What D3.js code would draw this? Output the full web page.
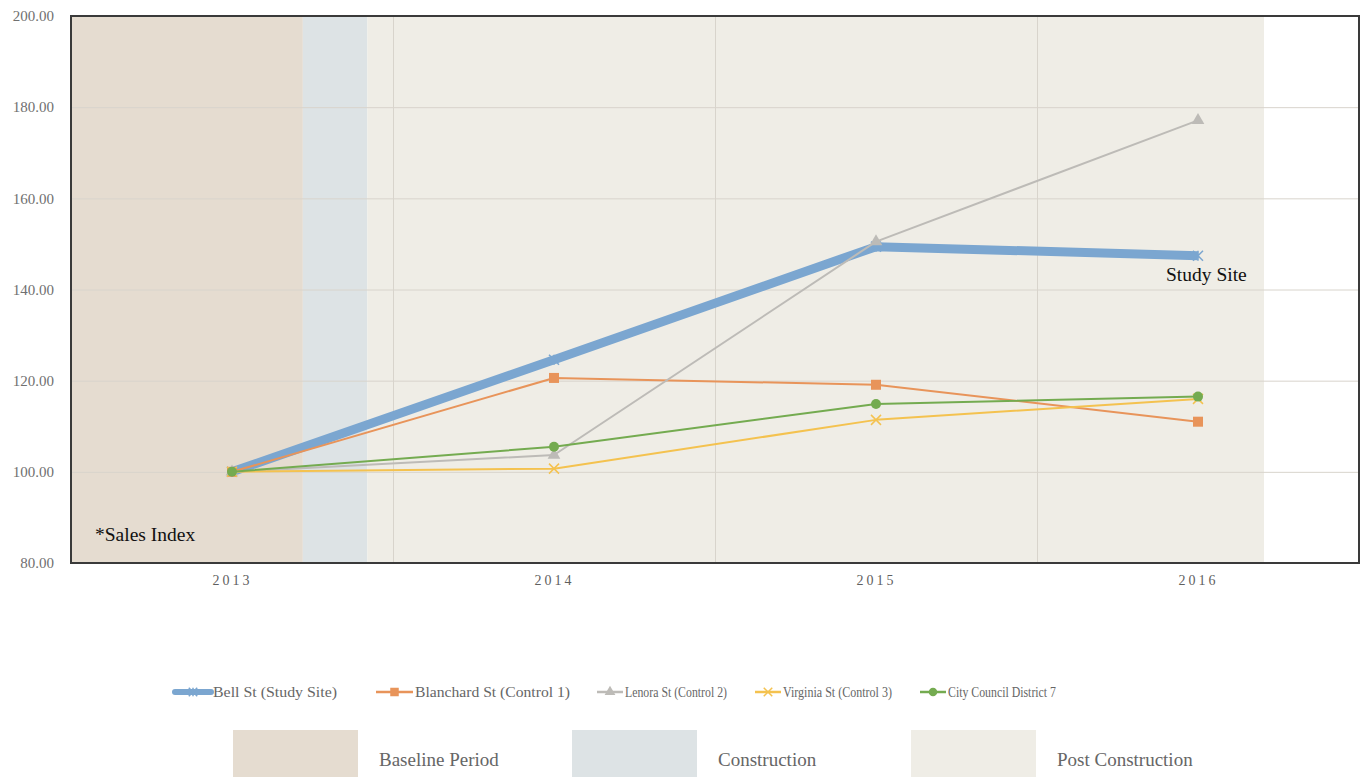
<!DOCTYPE html>
<html>
<head>
<meta charset="utf-8">
<script src="https://cdn.jsdelivr.net/npm/d3@7"></script>
<style>
  body { margin: 0; background: #ffffff; }
  svg text { font-family: "Liberation Serif", "Times New Roman", serif; }
</style>
</head>
<body>
<div id="chart"></div>
<script>
// categories (years) and the sales index of each street
var years = [2013, 2014, 2015, 2016];
var bellSt = [100.0, 124.6, 149.4, 147.4];
var blanchardSt = [100.0, 120.6, 119.1, 111.0];
var lenoraSt = [100.0, 103.7, 150.5, 177.1];
var virginiaSt = [100.0, 100.7, 111.4, 116.0];
var councilDistrict = [100.0, 105.5, 114.9, 116.5];

var seriesNames = ["Bell St (Study Site)", "Blanchard St (Control 1)", "Lenora St (Control 2)",
                   "Virginia St (Control 3)", "City Council District 7"];
var yTicks = [80, 100, 120, 140, 160, 180, 200];

// shaded periods, given in (fractional) years
var periodNames = ["Baseline Period", "Construction", "Post Construction"];
var periodStart = [2012.5, 2013.22, 2013.42];
var periodEnd = [2013.22, 2013.42, 2016.205];


function SalesChart() {

    var width = 1363;       // whole svg width
    var height = 777;       // whole svg height
    var margin = {top: 16, left: 71, right: 4, bottom: 214};

    var series = [
        {name: seriesNames[0], values: bellSt, color: "#7ba6d0", width: 9, marker: "star"},
        {name: seriesNames[1], values: blanchardSt, color: "#e8945a", width: 2, marker: "square"},
        {name: seriesNames[2], values: lenoraSt, color: "#bdbbb7", width: 2, marker: "triangle"},
        {name: seriesNames[3], values: virginiaSt, color: "#f4c24f", width: 2, marker: "cross"},
        {name: seriesNames[4], values: councilDistrict, color: "#74ab50", width: 2, marker: "circle"}
    ];
    var periodColors = ["#e5dcd0", "#dde3e5", "#efede6"];

    // legend placement as in the original layout
    var legendX = [175, 376, 597, 755, 920];
    var legendTextX = [213, 415, 625, 783, 948];
    var legendTextW = [124, 155, 102, 109, 108];
    var swatchX = [233, 572, 911];

    function chart(selection) {
        selection.each(function() {

            var svg = d3.select(this).append("svg")
                .attr("width", width)
                .attr("height", height);

            var x0 = margin.left;
            var y0 = margin.top, y1 = height - margin.bottom;

            var xYear = d3.scaleLinear().domain([2012.5, 2016.5]).range([x0, 1359]);
            var y = d3.scaleLinear().domain([80, 200]).range([y1, y0]);

            // period backgrounds
            svg.append("g").selectAll("rect")
                .data(periodNames)
                .join("rect")
                .attr("x", function(d, i) { return xYear(periodStart[i]); })
                .attr("width", function(d, i) { return xYear(periodEnd[i]) - xYear(periodStart[i]); })
                .attr("y", y0)
                .attr("height", y1 - y0)
                .attr("fill", function(d, i) { return periodColors[i]; });

            // gridlines
            var grid = svg.append("g");
            grid.selectAll("line.h")
                .data(yTicks.slice(1, -1))
                .join("line")
                .attr("x1", x0).attr("x2", xYear(2016.5))
                .attr("y1", function(d) { return y(d) + 0.5; })
                .attr("y2", function(d) { return y(d) + 0.5; })
                .attr("stroke", "#d8d4cc").attr("stroke-width", 1);
            grid.selectAll("line.v")
                .data(years.slice(0, -1))
                .join("line")
                .attr("x1", function(d) { return xYear(d + 0.5) + 0.5; })
                .attr("x2", function(d) { return xYear(d + 0.5) + 0.5; })
                .attr("y1", y0).attr("y2", y1)
                .attr("stroke", "#d8d4cc").attr("stroke-width", 1);

            // y axis labels
            var yAxis = d3.axisLeft(y).tickValues(yTicks).tickSize(0).tickPadding(17)
                .tickFormat(d3.format(".2f"));
            var ya = svg.append("g").attr("transform", "translate(" + x0 + ",0)").call(yAxis);
            ya.select(".domain").remove();
            ya.selectAll("text")
                .attr("fill", "#707070")
                .style("font-size", "15px")
                .style("font-family", "'Liberation Serif', serif");

            // x axis labels
            var xAxis = d3.axisBottom(xYear).tickValues(years).tickSize(0).tickPadding(12)
                .tickFormat(d3.format("d"));
            var xa = svg.append("g").attr("transform", "translate(0," + y1 + ")").call(xAxis);
            xa.select(".domain").remove();
            xa.selectAll("text")
                .attr("fill", "#5f5f5f")
                .style("font-size", "14px")
                .style("letter-spacing", "3px")
                .style("font-family", "'Liberation Serif', serif");

            // lines
            var line = d3.line()
                .x(function(d, i) { return xYear(years[i]); })
                .y(function(d) { return y(d); });

            var g = svg.append("g").selectAll("g")
                .data(series)
                .join("g");

            g.append("path")
                .attr("d", function(s) { return line(s.values); })
                .attr("fill", "none")
                .attr("stroke", function(s) { return s.color; })
                .attr("stroke-width", function(s) { return s.width; })
                .attr("stroke-linejoin", "round");

            g.each(function(s) {
                var sel = d3.select(this);
                s.values.forEach(function(v, i) {
                    drawMarker(sel, s, xYear(years[i]), y(v));
                });
            });

            // plot frame
            svg.append("rect")
                .attr("x", x0).attr("y", y0)
                .attr("width", xYear(2016.5) - x0).attr("height", y1 - y0)
                .attr("fill", "none")
                .attr("stroke", "#3a3a3a")
                .attr("stroke-width", 2);

            // notes inside the plot
            svg.append("text")
                .attr("x", 95).attr("y", 541)
                .attr("font-size", "19.5px").attr("fill", "#111")
                .text("*Sales Index");
            svg.append("text")
                .attr("x", 1166).attr("y", 281)
                .attr("font-size", "19.5px").attr("fill", "#111")
                .text("Study Site");

            // series legend
            var leg = svg.append("g").selectAll("g")
                .data(series)
                .join("g")
                .attr("transform", function(s, i) { return "translate(" + legendX[i] + ",692)"; });
            leg.append("line")
                .attr("x1", 0)
                .attr("x2", function(s, i) { return legendTextX[i] - legendX[i] - 2; })
                .attr("stroke", function(s) { return s.color; })
                .attr("stroke-width", function(s) { return s.width === 9 ? 6 : 2.5; })
                .attr("stroke-linecap", function(s) { return s.width === 9 ? "round" : "butt"; });
            leg.each(function(s, i) {
                drawMarker(d3.select(this), s, (legendTextX[i] - legendX[i] - 2) / 2, 0, 0.85);
            });
            leg.append("text")
                .attr("x", function(s, i) { return legendTextX[i] - legendX[i]; })
                .attr("y", 5)
                .attr("font-size", "15.5px")
                .attr("fill", "#666")
                .attr("textLength", function(s, i) { return legendTextW[i]; })
                .attr("lengthAdjust", "spacingAndGlyphs")
                .text(function(s) { return s.name; });

            // period legend
            var pl = svg.append("g").selectAll("g")
                .data(periodNames)
                .join("g")
                .attr("transform", function(d, i) { return "translate(" + swatchX[i] + ",730)"; });
            pl.append("rect")
                .attr("width", 125).attr("height", 50)
                .attr("fill", function(d, i) { return periodColors[i]; });
            pl.append("text")
                .attr("x", 146).attr("y", 36)
                .attr("font-size", "19px")
                .attr("fill", "#666")
                .text(function(d) { return d; });
        });
    }

    /*
     * Markers in the style of the spreadsheet chart
     */
    var drawMarker = function(sel, s, cx, cy, k) {
        k = k || 1;
        var r = 5 * k;
        if (s.marker === "square") {
            sel.append("rect")
                .attr("x", cx - r).attr("y", cy - r)
                .attr("width", 2 * r).attr("height", 2 * r)
                .attr("fill", s.color);
        } else if (s.marker === "triangle") {
            sel.append("path")
                .attr("d", d3.symbol(d3.symbolTriangle, 70 * k * k)())
                .attr("transform", "translate(" + cx + "," + cy + ")")
                .attr("fill", s.color);
        } else if (s.marker === "circle") {
            sel.append("circle")
                .attr("cx", cx).attr("cy", cy).attr("r", r)
                .attr("fill", s.color);
        } else if (s.marker === "cross") {
            sel.append("path")
                .attr("d", "M" + (cx - r) + "," + (cy - r) + "L" + (cx + r) + "," + (cy + r) +
                           "M" + (cx - r) + "," + (cy + r) + "L" + (cx + r) + "," + (cy - r))
                .attr("stroke", s.color).attr("stroke-width", 1.5);
        } else if (s.marker === "star") {
            sel.append("path")
                .attr("d", "M" + (cx - r) + "," + (cy - r) + "L" + (cx + r) + "," + (cy + r) +
                           "M" + (cx - r) + "," + (cy + r) + "L" + (cx + r) + "," + (cy - r) +
                           "M" + cx + "," + (cy - r) + "L" + cx + "," + (cy + r))
                .attr("stroke", s.color).attr("stroke-width", 1.5);
        }
    };

    chart.width = function(value) {
        if (!arguments.length) return width;
        width = value;
        return chart;
    };

    chart.height = function(value) {
        if (!arguments.length) return height;
        height = value;
        return chart;
    };

    return chart;
}

d3.select("#chart").call(SalesChart());
</script>
</body>
</html>
